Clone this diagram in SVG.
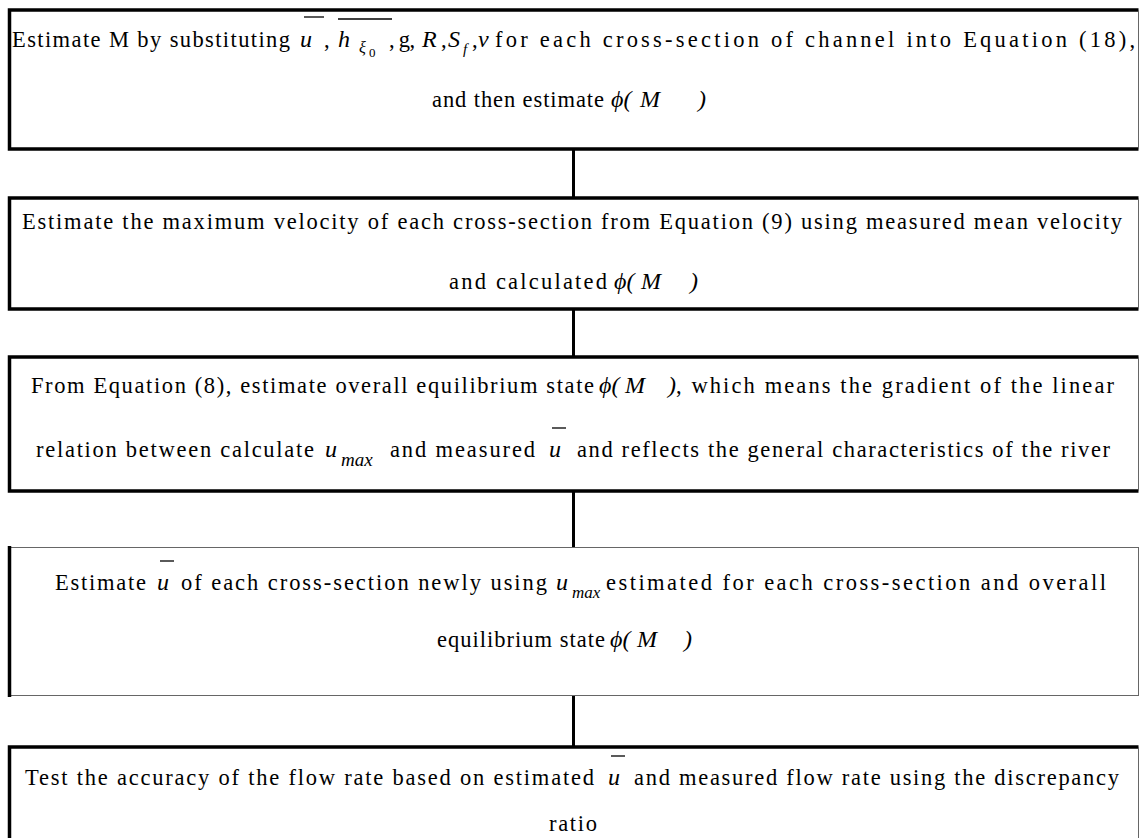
<svg xmlns="http://www.w3.org/2000/svg" width="1144" height="838" viewBox="0 0 1144 838">
<style>
.t{font-family:"Liberation Serif","Times New Roman",serif;font-size:22.5px;fill:#000}
.m{font-family:"Liberation Serif","Times New Roman",serif;font-size:24px;font-style:italic;fill:#000}
.s{font-family:"Liberation Serif","Times New Roman",serif;font-size:15px;font-style:italic;fill:#000}
.z{font-family:"Liberation Serif","Times New Roman",serif;font-size:13px;fill:#000}
.k{stroke:#000;stroke-width:3.5;fill:none}
.n{stroke:#666;stroke-width:1;fill:none}
.c{stroke:#000;stroke-width:3}
.b{stroke:#000;stroke-width:1.3}
</style>
<rect width="1144" height="838" fill="#fff"/>
<g id="connectors">
<line class="c" x1="573.5" y1="149" x2="573.5" y2="198"/>
<line class="c" x1="573.5" y1="309" x2="573.5" y2="357"/>
<line class="c" x1="573.5" y1="491" x2="573.5" y2="547"/>
<line class="c" x1="573.5" y1="695" x2="573.5" y2="747"/>
</g>
<g id="step1">
<path class="k" d="M1138.5,10 H9.5 V149 H1138.5"/>
<line class="n" x1="1138.5" y1="10" x2="1138.5" y2="149"/>
<text class="t" x="12" y="47" textLength="278">Estimate M by substituting</text>
<text class="m" x="300" y="47">u</text>
<line class="b" x1="304" y1="17" x2="324" y2="17"/>
<text class="t" x="324" y="47">,</text>
<text class="m" x="338" y="47">h</text>
<text class="s" x="359" y="53" style="font-size:16px">ξ</text>
<text class="z" x="369" y="57">0</text>
<line class="b" x1="338" y1="19" x2="392" y2="19"/>
<text class="t" x="389" y="47" textLength="26">, g,</text>
<text class="m" x="422" y="47">R</text>
<text class="t" x="441" y="47">,</text>
<text class="m" x="448" y="47">S</text>
<text class="s" x="463" y="54">f</text>
<text class="t" x="472" y="47">,</text>
<text class="m" x="478" y="47">ν</text>
<text class="t" x="495" y="47" textLength="640">for each cross-section of channel into Equation (18),</text>
<text class="t" x="432" y="107" textLength="172">and then estimate</text>
<text class="m" x="611" y="107">ϕ(</text>
<text class="m" x="640" y="107">M</text>
<text class="m" x="698" y="107">)</text>
</g>
<g id="step2">
<path class="k" d="M1138.5,198 H9.5 V309 H1138.5"/>
<line class="n" x1="1138.5" y1="198" x2="1138.5" y2="309"/>
<text class="t" x="22" y="229" textLength="1100">Estimate the maximum velocity of each cross-section from Equation (9) using measured mean velocity</text>
<text class="t" x="449" y="289" textLength="158">and calculated</text>
<text class="m" x="614" y="289">ϕ(</text>
<text class="m" x="641" y="289">M</text>
<text class="m" x="690" y="289">)</text>
</g>
<g id="step3">
<path class="k" d="M1138.5,357 H9.5 V491 H1138.5"/>
<line class="n" x1="1138.5" y1="357" x2="1138.5" y2="491"/>
<text class="t" x="31" y="393" textLength="563">From Equation (8), estimate overall equilibrium state</text>
<text class="m" x="599" y="393">ϕ(</text>
<text class="m" x="625" y="393">M</text>
<text class="m" x="668" y="393">)</text>
<text class="t" x="676" y="393" textLength="438">, which means the gradient of the linear</text>
<text class="t" x="36" y="457" textLength="278">relation between calculate</text>
<text class="m" x="325" y="457">u</text>
<text class="s" x="341" y="466" style="font-size:19px">max</text>
<text class="t" x="390" y="457" textLength="145">and measured</text>
<text class="m" x="549" y="457">u</text>
<line class="b" x1="552" y1="428" x2="566" y2="428"/>
<text class="t" x="577" y="457" textLength="533">and reflects the general characteristics of the river</text>
</g>
<g id="step4">
<line class="n" x1="9.5" y1="547.5" x2="1138.5" y2="547.5"/>
<line class="n" x1="9.5" y1="695.5" x2="1138.5" y2="695.5"/>
<line class="n" x1="1138.5" y1="547" x2="1138.5" y2="696"/>
<line class="k" x1="9.5" y1="546" x2="9.5" y2="697"/>
<text class="t" x="55" y="590" textLength="91">Estimate</text>
<text class="m" x="157" y="590">u</text>
<line class="b" x1="160" y1="561" x2="174" y2="561"/>
<text class="t" x="181" y="590" textLength="366">of each cross-section newly using</text>
<text class="m" x="556" y="590">u</text>
<text class="s" x="572" y="598" style="font-size:17px">max</text>
<text class="t" x="606" y="590" textLength="500">estimated for each cross-section and overall</text>
<text class="t" x="437" y="647" textLength="168">equilibrium state</text>
<text class="m" x="610" y="647">ϕ(</text>
<text class="m" x="637" y="647">M</text>
<text class="m" x="684" y="647">)</text>
</g>
<g id="step5">
<path class="k" d="M1138.5,747 H9.5 V840"/>
<line class="n" x1="1138.5" y1="747" x2="1138.5" y2="840"/>
<text class="t" x="25" y="785" textLength="569">Test the accuracy of the flow rate based on estimated</text>
<text class="m" x="608" y="785">u</text>
<line class="b" x1="611" y1="756" x2="625" y2="756"/>
<text class="t" x="634" y="785" textLength="485">and measured flow rate using the discrepancy</text>
<text class="t" x="549" y="831" textLength="48">ratio</text>
</g>
</svg>
